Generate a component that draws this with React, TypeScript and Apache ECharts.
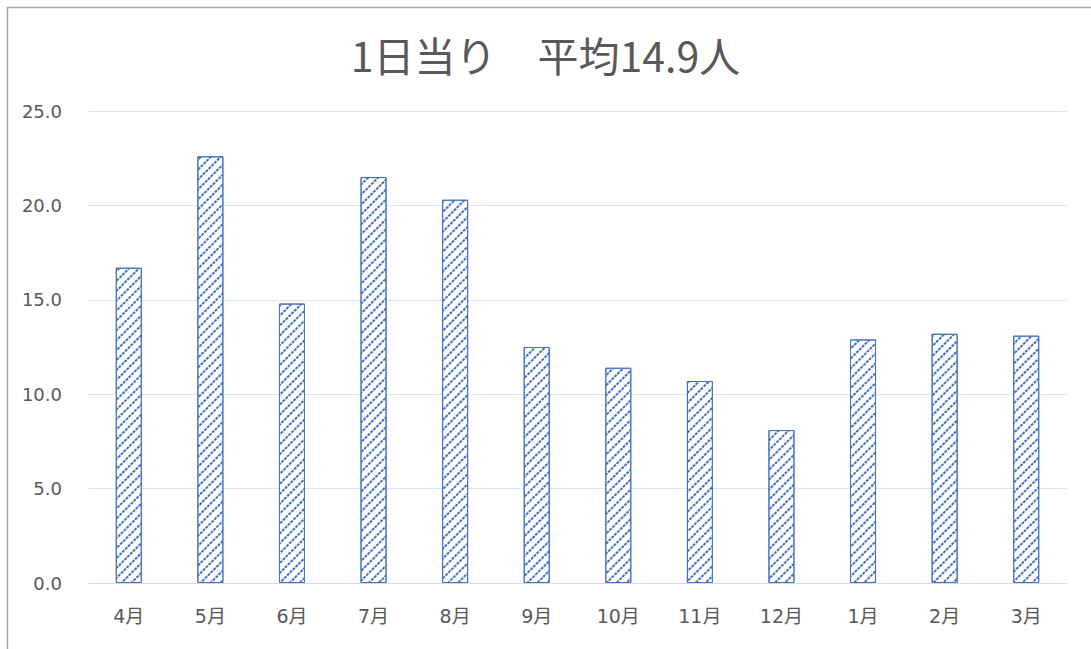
import React, { useEffect, useRef } from "react";
import * as echarts from "echarts";

const titleText = "1日当り　平均14.9人";
const months = ["4月", "5月", "6月", "7月", "8月", "9月", "10月", "11月", "12月", "1月", "2月", "3月"];
const perDay = [16.7, 22.6, 14.8, 21.5, 20.3, 12.5, 11.4, 10.7, 8.1, 12.9, 13.2, 13.1];
const yMin = 0;
const yMax = 25;
const yStep = 5;

export default function App() {
  const ref = useRef<HTMLDivElement>(null);
  useEffect(() => {
    if (!ref.current) return;
    const chart = echarts.init(ref.current, null, { renderer: "svg" });
    const font = "'Noto Sans CJK JP', 'Noto Sans', sans-serif";
    const mixFont = "'DejaVu Sans', 'Noto Sans CJK JP', sans-serif";
    chart.setOption({
      animation: false,
      backgroundColor: "#ffffff",
      title: {
        text: titleText,
        left: "center",
        top: 28,
        textStyle: { color: "#595959", fontSize: 41, fontWeight: "normal", fontFamily: font },
      },
      graphic: [
        { type: "line", shape: { x1: 7, y1: 7.5, x2: 1091, y2: 7.5 }, style: { stroke: "#a6a6a6", lineWidth: 1.5 } },
        { type: "line", shape: { x1: 7.5, y1: 7, x2: 7.5, y2: 649 }, style: { stroke: "#a6a6a6", lineWidth: 1.5 } },
      ],
      grid: { left: 88, right: 24, top: 111, bottom: 66, containLabel: false },
      xAxis: {
        type: "category",
        data: months,
        axisTick: { show: false },
        axisLine: { lineStyle: { color: "#d0dbee", width: 1 } },
        axisLabel: { color: "#595959", fontSize: 19, fontFamily: mixFont, margin: 23 },
      },
      yAxis: {
        type: "value",
        min: yMin,
        max: yMax,
        interval: yStep,
        axisLine: { show: false },
        axisTick: { show: false },
        splitLine: { lineStyle: { color: "#dce5f3", width: 1 } },
        axisLabel: {
          color: "#595959",
          fontSize: 18,
          fontFamily: "'DejaVu Sans', sans-serif",
          margin: 26,
          formatter: (v: number) => v.toFixed(1),
        },
      },
      series: [
        {
          type: "bar",
          data: perDay,
          barWidth: 26,
          itemStyle: {
            color: "#ffffff",
            borderColor: "#4472c4",
            borderWidth: 1,
            decal: {
              symbol: "rect",
              symbolSize: 1,
              color: "#4472c4",
              backgroundColor: "#ffffff",
              dashArrayX: [3, 1],
              dashArrayY: [2, 5],
              rotation: -Math.PI / 4,
            },
          },
        },
      ],
    });
    return () => chart.dispose();
  }, []);
  return <div ref={ref} style={{ position: "fixed", left: 0, top: 0, width: 1091, height: 649 }} />;
}
